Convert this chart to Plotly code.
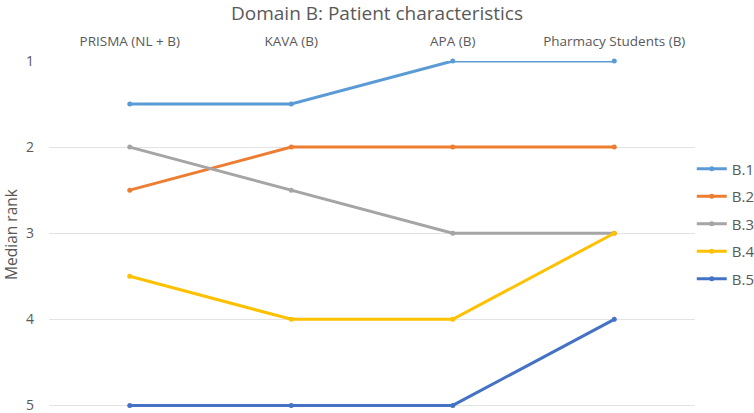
import plotly.graph_objects as go

categories = ["PRISMA (NL + B)", "KAVA (B)", "APA (B)", "Pharmacy Students (B)"]
series_names = ["B.1", "B.2", "B.3", "B.4", "B.5"]
b1 = [1.5, 1.5, 1, 1]
b2 = [2.5, 2, 2, 2]
b3 = [2, 2.5, 3, 3]
b4 = [3.5, 4, 4, 3]
b5 = [5, 5, 5, 4]
series_values = [b1, b2, b3, b4, b5]
colors = ["#5B9BD5", "#ED7D31", "#A5A5A5", "#FFC000", "#4472C4"]
y_ticks = [1, 2, 3, 4, 5]

FONT = "Open Sans"
GREY = "#595959"

fig = go.Figure()
for name, vals, col in zip(series_names, series_values, colors):
    fig.add_trace(go.Scatter(
        x=categories, y=vals, name=name, mode="lines+markers",
        line=dict(color=col, width=3),
        marker=dict(color=col, size=5),
        cliponaxis=False, legendgroup=name,
    ))

fig.update_layout(
    width=754, height=413,
    margin=dict(l=49, r=59, t=61, b=5, autoexpand=False),
    paper_bgcolor="white", plot_bgcolor="white",
    font=dict(family=FONT, color=GREY, size=12),
    title=dict(text="Domain B: Patient characteristics", x=0.5, xanchor="center",
               y=0.985, yanchor="top", font=dict(size=19, color=GREY, family=FONT)),
    legend=dict(x=0.995, xanchor="left", y=0.53, yanchor="middle",
                font=dict(size=15, color=GREY, family=FONT),
                tracegroupgap=5, itemwidth=30, bgcolor="rgba(0,0,0,0)"),
    showlegend=True,
)
fig.update_xaxes(
    type="category", side="top", range=[-0.5, 3.5],
    showgrid=False, showline=False, zeroline=False, ticks="",
    tickfont=dict(size=13.5, color=GREY, family=FONT), ticklabelstandoff=11,
)
fig.update_yaxes(
    range=[5.03, 1], tickvals=y_ticks, showgrid=True, gridcolor="#E3E3E3", gridwidth=1,
    zeroline=False, showline=False, ticks="", ticklabeloverflow="allow",
    tickfont=dict(size=14, color=GREY, family=FONT), ticklabelstandoff=14,
    title=dict(text="Median rank", font=dict(size=15.5, color=GREY, family=FONT), standoff=6),
)

fig.write_html("out.html", config={"displayModeBar": False},
               post_script="document.body.style.margin='0';")
